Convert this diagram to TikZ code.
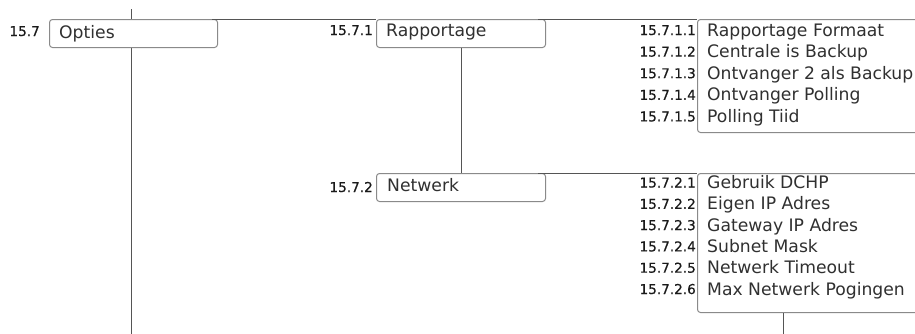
\documentclass[tikz,border=0pt]{standalone}
\usepackage{fontspec}
\setmainfont{DejaVu Sans}
\definecolor{txtc}{HTML}{303030}
\definecolor{lblc}{HTML}{1A1A1A}
\definecolor{linec}{HTML}{555555}
\definecolor{boxc}{HTML}{8A8A8A}
\tikzset{
  box/.style={draw=boxc, line width=1pt, rounded corners=3pt, fill=white, anchor=north west, inner sep=0pt},
  txt/.style={text=txtc, font=\fontsize{17.2}{18}\selectfont, anchor=base west, inner sep=0pt},
  lbl/.style={text=lblc, font=\fontsize{13.6}{14}\selectfont\addfontfeatures{FakeBold=0.6}, anchor=base east, inner sep=0pt},
  conn/.style={draw=linec, line width=1pt},
}
\begin{document}
\begin{tikzpicture}[x=1pt,y=-1pt]
\useasboundingbox (0,0) rectangle (915,333);
\clip (0,0) rectangle (915,333);
% connector coordinates
\coordinate (otop) at (131,9);
\coordinate (obot) at (131,334);
\coordinate (hstart) at (212,19);
\coordinate (nsbot) at (783,334);
% vertical trunk behind Opties
\draw[conn] (otop) -- (obot);
% boxes
\node[box, minimum width=168pt, minimum height=28pt] (o) at (49,19) {};
\node[box, minimum width=169pt, minimum height=28pt] (r) at (376,19) {};
\node[box, minimum width=169pt, minimum height=28pt] (n) at (376,173) {};
\node[box, minimum width=240pt, minimum height=113pt] (rs) at (697,19) {};
\node[box, minimum width=240pt, minimum height=139pt] (ns) at (697,173) {};
% connectors
\draw[conn] (hstart) -- (r.north west);
\draw[conn] (r.north east) ++(-8,0) -- (rs.north west);
\draw[conn] (r.south) -- (n.north);
\draw[conn] (n.north east) ++(-8,0) -- (ns.north west);
\draw[conn] (ns.south -| nsbot) -- (nsbot);
% box texts
\node[txt] (ot) at (59,38) {Opties};
\node[lbl] (ol) at (40,36) {15.7};
\node[txt] (rt) at (386,36) {Rapportage};
\node[lbl] (rl) at (373,35) {15.7.1};
\node[txt] (nt) at (387,191) {Netwerk};
\node[lbl] (nl) at (373,192) {15.7.2};
% rapportage items
\foreach \i/\t in {0/Rapportage Formaat,1/Centrale is Backup,2/Ontvanger 2 als Backup,3/Ontvanger Polling,4/Polling Tiid}{
  \pgfmathsetmacro{\yy}{36+21.6*\i}
  \pgfmathtruncatemacro{\k}{\i+1}
  \node[txt] (ri\k) at (707,\yy) {\t};
  \node[lbl] (rl\k) at (696,\yy-1) {15.7.1.\k};
}
% netwerk items
\foreach \i/\t in {0/Gebruik DCHP,1/Eigen IP Adres,2/Gateway IP Adres,3/Subnet Mask,4/Netwerk Timeout,5/Max Netwerk Pogingen}{
  \pgfmathsetmacro{\yy}{188.5+21.3*\i}
  \pgfmathtruncatemacro{\k}{\i+1}
  \node[txt] (ni\k) at (707,\yy) {\t};
  \node[lbl] (nl\k) at (696,\yy-1) {15.7.2.\k};
}
\end{tikzpicture}
\end{document}
